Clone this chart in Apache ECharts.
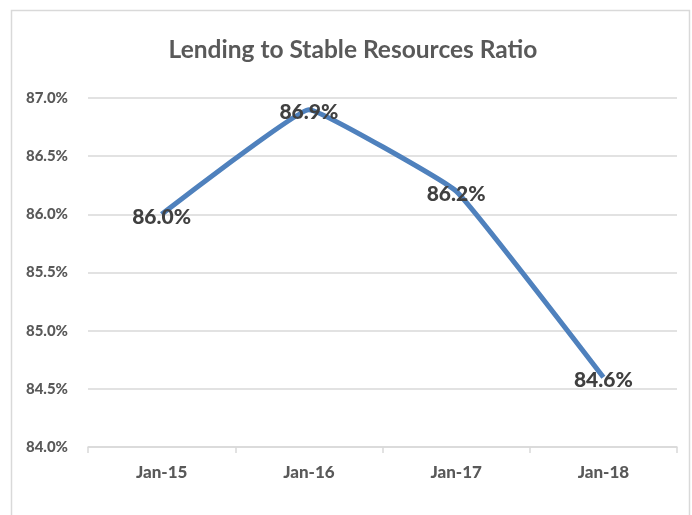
<!DOCTYPE html>
<html>
<head>
<meta charset="utf-8">
<script src="https://cdn.jsdelivr.net/npm/echarts@6/dist/echarts.min.js"></script>
<style>
  html, body { margin: 0; padding: 0; background: #fff; }
  #chart { width: 692px; height: 515px; }
</style>
</head>
<body>
<div id="chart"></div>
<script>
// Lending to stable resources ratio, January readings (percent)
const categories = ['Jan-15', 'Jan-16', 'Jan-17', 'Jan-18'];
const ratioValues = [86.0, 86.9, 86.2, 84.6];
const yTicks = { min: 84.0, max: 87.0, step: 0.5 };

const FONT = 'Lato, "Open Sans", sans-serif';

const chart = echarts.init(document.getElementById('chart'), null, { renderer: 'canvas' });

chart.setOption({
  backgroundColor: '#ffffff',
  animation: false,
  title: {
    text: 'Lending to Stable Resources Ratio',
    left: 348,
    top: 33,
    textAlign: 'center',
    textStyle: { fontFamily: FONT, fontSize: 24.5, fontWeight: 'bold', color: '#595959' }
  },
  graphic: [{
    type: 'rect',
    shape: { x: 11.5, y: 10.5, width: 678, height: 520 },
    style: { fill: 'none', stroke: '#d9d9d9', lineWidth: 1.5 },
    silent: true,
    z: -1
  }],
  grid: { left: 88, right: 15, top: 98, bottom: 68 },
  xAxis: {
    type: 'category',
    data: categories,
    boundaryGap: true,
    axisLine: { lineStyle: { color: '#d9d9d9', width: 1.5 } },
    axisTick: { show: true, length: 6, lineStyle: { color: '#d9d9d9', width: 1.5 } },
    axisLabel: { margin: 17, fontFamily: FONT, fontSize: 17, fontWeight: 900, color: '#595959' }
  },
  yAxis: {
    type: 'value',
    min: yTicks.min,
    max: yTicks.max,
    interval: yTicks.step,
    axisLine: { show: false },
    axisTick: { show: false },
    splitLine: { lineStyle: { color: '#d9d9d9', width: 1.5 } },
    axisLabel: {
      margin: 20,
      fontFamily: FONT, fontSize: 15, fontWeight: 900, color: '#595959',
      formatter: v => v.toFixed(1) + '%'
    }
  },
  series: [{
    type: 'line',
    data: ratioValues,
    smooth: 0.08,
    symbol: 'circle',
    symbolSize: 1,
    showSymbol: true,
    itemStyle: { color: 'rgba(0,0,0,0)' },
    lineStyle: { color: '#4f81bd', width: 5 },
    label: {
      show: true,
      position: 'inside',
      offset: [0, 3],
      fontFamily: FONT, fontSize: 21, fontWeight: 900, color: '#404040',
      formatter: p => p.value.toFixed(1) + '%'
    }
  }]
});
</script>
</body>
</html>
